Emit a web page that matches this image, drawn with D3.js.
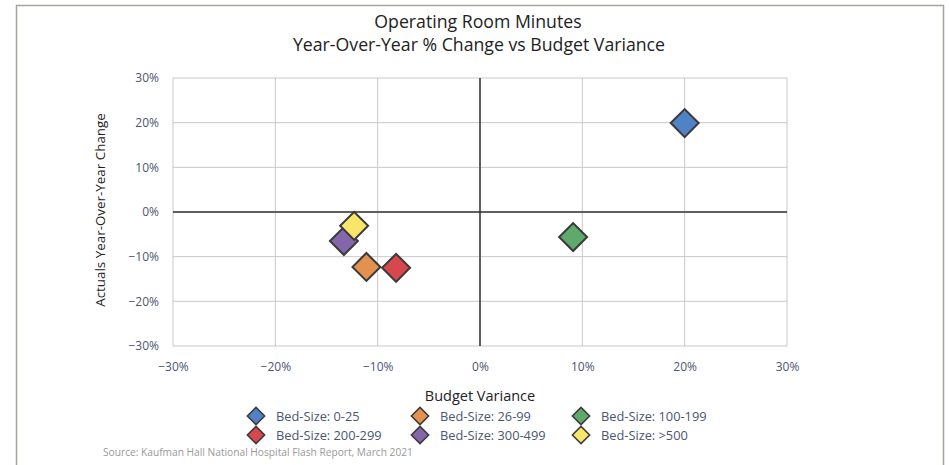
<!DOCTYPE html>
<html>
<head>
<meta charset="utf-8">
<script src="https://cdn.jsdelivr.net/npm/d3@7"></script>
<style>
  body { margin: 0; background: #fff; }
  text { font-family: "Open Sans", sans-serif; }
  .tick text { fill: #4a5670; font-size: 12px; }
</style>
</head>
<body>
<svg id="chart"></svg>
<script>
// data
const groups = ["Bed-Size: 0-25", "Bed-Size: 26-99", "Bed-Size: 100-199",
                "Bed-Size: 200-299", "Bed-Size: 300-499", "Bed-Size: >500"];
const budgetVariance = [20.0, -11.1, 9.1, -8.2, -13.3, -12.3];
const yoyChange = [19.9, -12.3, -5.6, -12.5, -6.5, -3.1];
const colors = ["#5082c6", "#e3914f", "#5ea96b", "#d6484d", "#8466ab", "#f7e66a"];
const tickValues = [-30, -20, -10, 0, 10, 20, 30];

const width = 949, height = 465;
const margin = {top: 78, right: 162, bottom: 119, left: 173};

const svg = d3.select("#chart")
    .attr("width", width)
    .attr("height", height);

// frame around the card (no bottom edge)
svg.append("path")
    .attr("d", `M16.5,${height} V5.5 H943.5 V${height}`)
    .attr("fill", "none")
    .attr("stroke", "#a3a69a")
    .attr("stroke-width", 1.5);

const x = d3.scaleLinear()
    .domain([-30, 30])
    .range([margin.left, width - margin.right]);

const y = d3.scaleLinear()
    .domain([-30, 30])
    .range([height - margin.bottom, margin.top]);

// grid
svg.append("g")
    .selectAll("line")
    .data(tickValues)
    .join("line")
    .attr("x1", d => x(d)).attr("x2", d => x(d))
    .attr("y1", y(30)).attr("y2", y(-30))
    .attr("stroke", "#c8c8c8");

svg.append("g")
    .selectAll("line")
    .data(tickValues)
    .join("line")
    .attr("y1", d => y(d)).attr("y2", d => y(d))
    .attr("x1", x(-30)).attr("x2", x(30))
    .attr("stroke", "#c8c8c8");

// zero lines
svg.append("line")
    .attr("x1", x(0)).attr("x2", x(0))
    .attr("y1", y(30)).attr("y2", y(-30))
    .attr("stroke", "#333").attr("stroke-width", 1.5);
svg.append("line")
    .attr("y1", y(0)).attr("y2", y(0))
    .attr("x1", x(-30)).attr("x2", x(30))
    .attr("stroke", "#333").attr("stroke-width", 1.5);

const fmt = d => (d < 0 ? "\u2212" + Math.abs(d) : d) + "%";

const xAxis = svg.append("g")
    .attr("transform", `translate(0,${y(-30)})`)
    .call(d3.axisBottom(x).tickValues(tickValues).tickFormat(fmt).tickSize(0).tickPadding(16));
xAxis.select(".domain").remove();

const yAxis = svg.append("g")
    .attr("transform", `translate(${x(-30)},0)`)
    .call(d3.axisLeft(y).tickValues(tickValues).tickFormat(fmt).tickSize(0).tickPadding(14));
yAxis.select(".domain").remove();

// titles
svg.append("text")
    .attr("x", 478).attr("y", 28)
    .attr("text-anchor", "middle")
    .attr("font-size", "17.7px").attr("fill", "#222")
    .text("Operating Room Minutes");
svg.append("text")
    .attr("x", 479).attr("y", 51)
    .attr("text-anchor", "middle")
    .attr("font-size", "17.7px").attr("fill", "#222")
    .text("Year-Over-Year % Change vs Budget Variance");

svg.append("text")
    .attr("x", 480).attr("y", 401)
    .attr("text-anchor", "middle")
    .attr("font-size", "14.5px").attr("fill", "#222")
    .text("Budget Variance");

svg.append("text")
    .attr("transform", `translate(105,${y(0) - 2}) rotate(-90)`)
    .attr("text-anchor", "middle")
    .attr("font-size", "13.4px").attr("fill", "#222")
    .text("Actuals Year-Over-Year Change");

// points
const diamond = d3.symbol().type(d3.symbolSquare).size(390);
svg.append("g")
    .selectAll("path")
    .data(groups)
    .join("path")
    .attr("d", diamond)
    .attr("transform", (d, i) => `translate(${x(budgetVariance[i])},${y(yoyChange[i])}) rotate(45)`)
    .attr("fill", (d, i) => colors[i])
    .attr("stroke", "#3a3a3a")
    .attr("stroke-width", 2);

// legend
const legendX = [256, 420, 581];
const legendY = [416, 435];
const legend = svg.append("g")
    .selectAll("g")
    .data(groups)
    .join("g")
    .attr("transform", (d, i) => `translate(${legendX[i % 3]},${legendY[Math.floor(i / 3)]})`);
legend.append("path")
    .attr("d", d3.symbol().type(d3.symbolSquare).size(150))
    .attr("transform", "rotate(45)")
    .attr("fill", (d, i) => colors[i])
    .attr("stroke", "#3a3a3a")
    .attr("stroke-width", 1.5);
legend.append("text")
    .attr("x", 20).attr("y", 4.5)
    .attr("font-size", "12.8px").attr("fill", "#4a5670")
    .text(d => d);

svg.append("text")
    .attr("x", 103).attr("y", 456)
    .attr("font-size", "10.2px").attr("fill", "#999")
    .text("Source: Kaufman Hall National Hospital Flash Report, March 2021");
</script>
</body>
</html>
